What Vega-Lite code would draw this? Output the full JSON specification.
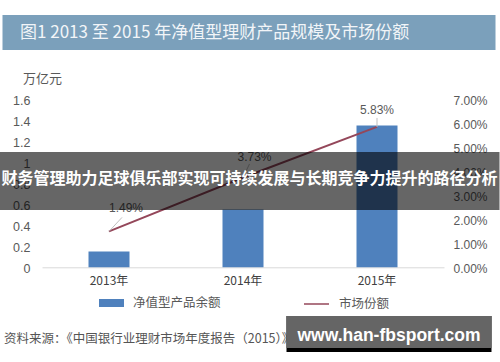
{
  "$schema": "https://vega.github.io/schema/vega-lite/v6.json",
  "width": 408,
  "height": 267.3,
  "padding": {"left": 42, "top": 0, "right": 50, "bottom": 94.7},
  "autosize": {"type": "none"},
  "background": "#ffffff",
  "config": {"view": {"stroke": null}, "font": "Noto Sans CJK SC"},
  "datasets": {
    "main": [
      {"year": "2013年", "amount": 0.15, "share": 0.0149},
      {"year": "2014年", "amount": 0.55, "share": 0.0373},
      {"year": "2015年", "amount": 1.35, "share": 0.0583}
    ]
  },
  "layer": [
    {
      "data": {"name": "main"},
      "mark": {"type": "bar"},
      "encoding": {
        "x": {
          "field": "year", "type": "nominal",
          "scale": {"domain": ["2013年", "2014年", "2015年"], "range": [0, 402], "paddingInner": 0.694, "paddingOuter": 0.347},
          "axis": {"orient": "bottom", "title": null, "labelAngle": 0, "ticks": false, "domain": true, "domainColor": "#d9d9d9", "domainWidth": 1, "labels": true, "labelPadding": 8, "labelFontSize": 12, "labelColor": "#404040", "labelFont": "Noto Sans CJK SC", "grid": false}
        },
        "y": {
          "field": "amount", "type": "quantitative",
          "scale": {"domain": [0, 2.5457], "zero": false, "nice": false},
          "axis": {"orient": "left", "values": [0, 0.2, 0.4, 0.6, 0.8, 1, 1.2, 1.4, 1.6], "format": "~g", "title": null, "ticks": false, "domain": false, "grid": false, "labelPadding": 12, "labelOffset": 1.5, "labelFontSize": 12.5, "labelColor": "#595959", "labelFont": "Liberation Sans"}
        },
        "color": {
          "datum": "净值型产品余额", "type": "nominal",
          "scale": {"range": ["#4f81bd"]},
          "legend": {"orient": "none", "legendX": 57, "legendY": 290.5, "title": null, "symbolType": "M-1,-0.32H1V0.32H-1Z", "symbolSize": 625, "symbolStrokeWidth": 0, "labelFont": "Noto Sans CJK SC", "labelFontSize": 12.5, "labelColor": "#595959", "labelOffset": 9, "padding": 0}
        }
      }
    },
    {
      "data": {"values": [{"t": "万亿元"}]},
      "mark": {"type": "text", "dx": -66.5, "fontSize": 13, "color": "#595959", "baseline": "middle", "font": "Noto Sans CJK SC"},
      "encoding": {
        "x": {"datum": "2013年", "type": "nominal"},
        "y": {"datum": 1.79, "type": "quantitative", "scale": {"domain": [0, 2.5457], "zero": false, "nice": false}, "axis": null},
        "text": {"field": "t", "type": "nominal"}
      }
    },
    {
      "data": {"name": "main"},
      "mark": {"type": "line", "strokeWidth": 2},
      "encoding": {
        "x": {"field": "year", "type": "nominal"},
        "y": {
          "field": "share", "type": "quantitative",
          "scale": {"domain": [0, 0.111], "zero": false, "nice": false},
          "axis": {"orient": "right", "values": [0, 0.01, 0.02, 0.03, 0.04, 0.05, 0.06, 0.07], "format": ".2%", "title": null, "ticks": false, "domain": false, "grid": false, "labelPadding": 3, "labelOffset": 1.5, "labelFontSize": 12, "labelColor": "#595959", "labelFont": "Liberation Sans"}
        },
        "stroke": {
          "datum": "市场份额", "type": "nominal",
          "scale": {"range": ["#94475a"]},
          "legend": {"orient": "none", "legendX": 261, "legendY": 290.5, "title": null, "symbolType": "stroke", "symbolSize": 625, "symbolStrokeWidth": 1.5, "labelFont": "Noto Sans CJK SC", "labelFontSize": 12.5, "labelColor": "#595959", "labelOffset": 9, "padding": 0}
        }
      }
    },
    {
      "data": {"name": "main"},
      "transform": [{"filter": "datum.year === '2013年'"}],
      "mark": {"type": "rule", "color": "#bfbfbf", "strokeWidth": 1, "x2Offset": 13, "y2Offset": -14},
      "encoding": {
        "x": {"field": "year", "type": "nominal"},
        "x2": {"field": "year"},
        "y": {"field": "share", "type": "quantitative", "scale": {"domain": [0, 0.111], "zero": false, "nice": false}, "axis": null},
        "y2": {"field": "share"}
      }
    },
    {
      "data": {"name": "main"},
      "transform": [{"filter": "datum.year === '2014年'"}],
      "mark": {"type": "rule", "color": "#bfbfbf", "strokeWidth": 1, "x2Offset": 6.5, "y2Offset": -13.5},
      "encoding": {
        "x": {"field": "year", "type": "nominal"},
        "x2": {"field": "year"},
        "y": {"field": "share", "type": "quantitative", "scale": {"domain": [0, 0.111], "zero": false, "nice": false}, "axis": null},
        "y2": {"field": "share"}
      }
    },
    {
      "data": {"name": "main"},
      "transform": [{"filter": "datum.year === '2015年'"}],
      "mark": {"type": "rule", "color": "#bfbfbf", "strokeWidth": 1, "y2Offset": -9},
      "encoding": {
        "x": {"field": "year", "type": "nominal"},
        "y": {"field": "share", "type": "quantitative", "scale": {"domain": [0, 0.111], "zero": false, "nice": false}, "axis": null},
        "y2": {"field": "share"}
      }
    },
    {
      "data": {"name": "main"},
      "transform": [{"filter": "datum.year === '2013年'"}],
      "mark": {"type": "text", "dx": 17, "dy": -23.5, "fontSize": 12, "color": "#595959", "font": "Liberation Sans", "baseline": "middle"},
      "encoding": {
        "x": {"field": "year", "type": "nominal"},
        "y": {"field": "share", "type": "quantitative", "scale": {"domain": [0, 0.111], "zero": false, "nice": false}, "axis": null},
        "text": {"field": "share", "type": "quantitative", "format": ".2%"}
      }
    },
    {
      "data": {"name": "main"},
      "transform": [{"filter": "datum.year === '2014年'"}],
      "mark": {"type": "text", "dx": 11.5, "dy": -20.5, "fontSize": 12, "color": "#595959", "font": "Liberation Sans", "baseline": "middle"},
      "encoding": {
        "x": {"field": "year", "type": "nominal"},
        "y": {"field": "share", "type": "quantitative", "scale": {"domain": [0, 0.111], "zero": false, "nice": false}, "axis": null},
        "text": {"field": "share", "type": "quantitative", "format": ".2%"}
      }
    },
    {
      "data": {"name": "main"},
      "transform": [{"filter": "datum.year === '2015年'"}],
      "mark": {"type": "text", "dy": -17, "fontSize": 12, "color": "#595959", "font": "Liberation Sans", "baseline": "middle"},
      "encoding": {
        "x": {"field": "year", "type": "nominal"},
        "y": {"field": "share", "type": "quantitative", "scale": {"domain": [0, 0.111], "zero": false, "nice": false}, "axis": null},
        "text": {"field": "share", "type": "quantitative", "format": ".2%"}
      }
    },
    {
      "data": {"values": [{"t": "图1  2013 至 2015 年净值型理财产品规模及市场份额"}]},
      "mark": {"type": "bar", "color": "#7ba0bb", "width": 493, "xOffset": 6},
      "encoding": {
        "x": {"datum": "2014年", "type": "nominal"},
        "y": {"datum": 2.4029, "type": "quantitative", "scale": {"domain": [0, 2.5457], "zero": false, "nice": false}, "axis": null},
        "y2": {"datum": 2.0695}
      }
    },
    {
      "data": {"values": [{"t": "图1  2013 至 2015 年净值型理财产品规模及市场份额"}]},
      "mark": {"type": "text", "align": "left", "baseline": "middle", "dx": -89, "fontSize": 17, "color": "#f2f5f8", "font": "Noto Sans CJK SC"},
      "encoding": {
        "x": {"datum": "2013年", "type": "nominal"},
        "y": {"datum": 2.2314, "type": "quantitative", "scale": {"domain": [0, 2.5457], "zero": false, "nice": false}, "axis": null},
        "text": {"field": "t", "type": "nominal"}
      }
    },
    {
      "data": {"values": [{"t": "资料来源：《中国银行业理财市场年度报告（2015）》"}]},
      "mark": {"type": "text", "align": "left", "baseline": "middle", "dx": -105, "fontSize": 12.5, "color": "#555555", "font": "Noto Sans CJK SC"},
      "encoding": {
        "x": {"datum": "2013年", "type": "nominal"},
        "y": {"datum": -0.683, "type": "quantitative", "scale": {"domain": [0, 2.5457], "zero": false, "nice": false}, "axis": null},
        "text": {"field": "t", "type": "nominal"}
      }
    },
    {
      "data": {"values": [{"t": "财务管理助力足球俱乐部实现可持续发展与长期竞争力提升的路径分析"}]},
      "mark": {"type": "bar", "color": "#000000", "opacity": 0.6, "width": 500, "xOffset": 6.5},
      "encoding": {
        "x": {"datum": "2014年", "type": "nominal"},
        "y": {"datum": 1.0981, "type": "quantitative", "scale": {"domain": [0, 2.5457], "zero": false, "nice": false}, "axis": null},
        "y2": {"datum": 0.5457}
      }
    },
    {
      "data": {"values": [{"t": "财务管理助力足球俱乐部实现可持续发展与长期竞争力提升的路径分析"}]},
      "mark": {"type": "text", "align": "center", "baseline": "middle", "dx": 6.5, "fontSize": 16, "fontWeight": "bold", "color": "#ffffff", "font": "Noto Sans CJK SC"},
      "encoding": {
        "x": {"datum": "2014年", "type": "nominal"},
        "y": {"datum": 0.84, "type": "quantitative", "scale": {"domain": [0, 2.5457], "zero": false, "nice": false}, "axis": null},
        "text": {"field": "t", "type": "nominal"}
      }
    },
    {
      "data": {"values": [{"t": "www.han-fbsport.com"}]},
      "mark": {"type": "bar", "color": "#000000", "width": 205, "xOffset": 12},
      "encoding": {
        "x": {"datum": "2015年", "type": "nominal"},
        "y": {"datum": -0.4638, "type": "quantitative", "scale": {"domain": [0, 2.5457], "zero": false, "nice": false}, "axis": null},
        "y2": {"datum": -0.8067}
      }
    },
    {
      "data": {"values": [{"t": "www.han-fbsport.com"}]},
      "mark": {"type": "bar", "color": "#656565", "width": 205, "xOffset": 12},
      "encoding": {
        "x": {"datum": "2015年", "type": "nominal"},
        "y": {"datum": -0.4638, "type": "quantitative", "scale": {"domain": [0, 2.5457], "zero": false, "nice": false}, "axis": null},
        "y2": {"datum": -0.7686}
      }
    },
    {
      "data": {"values": [{"t": "www.han-fbsport.com"}]},
      "mark": {"type": "text", "align": "center", "baseline": "middle", "dx": 12, "fontSize": 17.5, "fontWeight": "bold", "color": "#ffffff", "font": "Liberation Sans"},
      "encoding": {
        "x": {"datum": "2015年", "type": "nominal"},
        "y": {"datum": -0.6543, "type": "quantitative", "scale": {"domain": [0, 2.5457], "zero": false, "nice": false}, "axis": null},
        "text": {"field": "t", "type": "nominal"}
      }
    }
  ],
  "resolve": {"scale": {"y": "independent"}}
}
